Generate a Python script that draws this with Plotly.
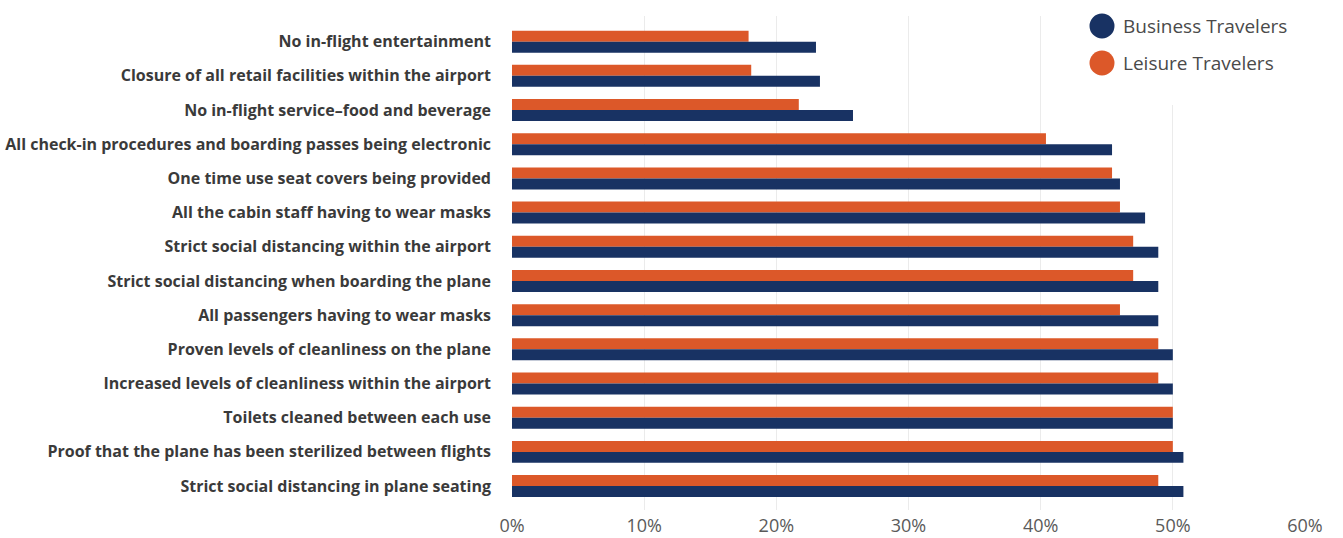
import plotly.graph_objects as go

# Survey measures, listed top to bottom
categories = [
    "No in-flight entertainment",
    "Closure of all retail facilities within the airport",
    "No in-flight service–food and beverage",
    "All check-in procedures and boarding passes being electronic",
    "One time use seat covers being provided",
    "All the cabin staff having to wear masks",
    "Strict social distancing within the airport",
    "Strict social distancing when boarding the plane",
    "All passengers having to wear masks",
    "Proven levels of cleanliness on the plane",
    "Increased levels of cleanliness within the airport",
    "Toilets cleaned between each use",
    "Proof that the plane has been sterilized between flights",
    "Strict social distancing in plane seating",
]

business = [23.0, 23.3, 25.8, 45.4, 46.0, 47.9, 48.9, 48.9, 48.9, 50.0, 50.0, 50.0, 50.8, 50.8]
leisure = [17.9, 18.1, 21.7, 40.4, 45.4, 46.0, 47.0, 47.0, 46.0, 48.9, 48.9, 50.0, 50.0, 48.9]

x_ticks = [0, 10, 20, 30, 40, 50, 60]
x_tick_labels = ["0%", "10%", "20%", "30%", "40%", "50%", "60%"]

series_names = ["Business Travelers", "Leisure Travelers"]
NAVY = "#183263"
ORANGE = "#DC5829"

fig = go.Figure()
# Leisure first so it sits above Business within each group (reversed axis)
fig.add_trace(go.Bar(
    y=categories, x=leisure, orientation="h", name=series_names[1],
    marker=dict(color=ORANGE, line=dict(width=0)), showlegend=False,
))
fig.add_trace(go.Bar(
    y=categories, x=business, orientation="h", name=series_names[0],
    marker=dict(color=NAVY, line=dict(width=0)), showlegend=False,
))

# Custom legend with round swatches
shapes = [
    dict(type="rect", xref="paper", yref="paper", x0=0.675, x1=1.02, y0=0.82, y1=1.05,
         fillcolor="white", line=dict(width=0), layer="above"),
]
annotations = []
legend_items = [(series_names[0], NAVY, 26), (series_names[1], ORANGE, 63)]
W, H = 1343, 538
L, R, T, B = 512, 38, 16, 28
pw, ph = W - L - R, H - T - B
for name, color, cy in legend_items:
    cx, r = 1102, 12.5
    shapes.append(dict(
        type="circle", xref="paper", yref="paper",
        x0=(cx - r - L) / pw, x1=(cx + r - L) / pw,
        y0=1 - (cy + r - T) / ph, y1=1 - (cy - r - T) / ph,
        fillcolor=color, line=dict(width=0), layer="above",
    ))
    annotations.append(dict(
        text=name, xref="paper", yref="paper",
        x=(1121 - L) / pw, y=1 - (cy - T) / ph,
        xanchor="left", yanchor="middle", showarrow=False,
        font=dict(family="Open Sans", size=19, color="#4a4a4a", weight=400),
    ))

fig.update_layout(
    width=W, height=H,
    margin=dict(l=L, r=R, t=T, b=B),
    paper_bgcolor="white", plot_bgcolor="white",
    barmode="group", bargap=0.357, bargroupgap=0,
    shapes=shapes, annotations=annotations,
    showlegend=False,
    xaxis=dict(
        range=[0, 60], tickvals=x_ticks, ticktext=x_tick_labels,
        showgrid=True, gridcolor="#ebebeb", gridwidth=1,
        zeroline=False, showline=False, ticks="",
        tickfont=dict(family="Open Sans", size=18, color="#5a5a5a", weight=400),
        ticklabelstandoff=3, automargin=False,
    ),
    yaxis=dict(
        range=[13.7, -0.75], showgrid=False, zeroline=False, showline=False,
        ticks="", ticklabelstandoff=20, automargin=False,
        tickfont=dict(family="Open Sans", size=16, color="#3a3a3a", weight="bold"),
    ),
)

fig.write_html("out.html")
